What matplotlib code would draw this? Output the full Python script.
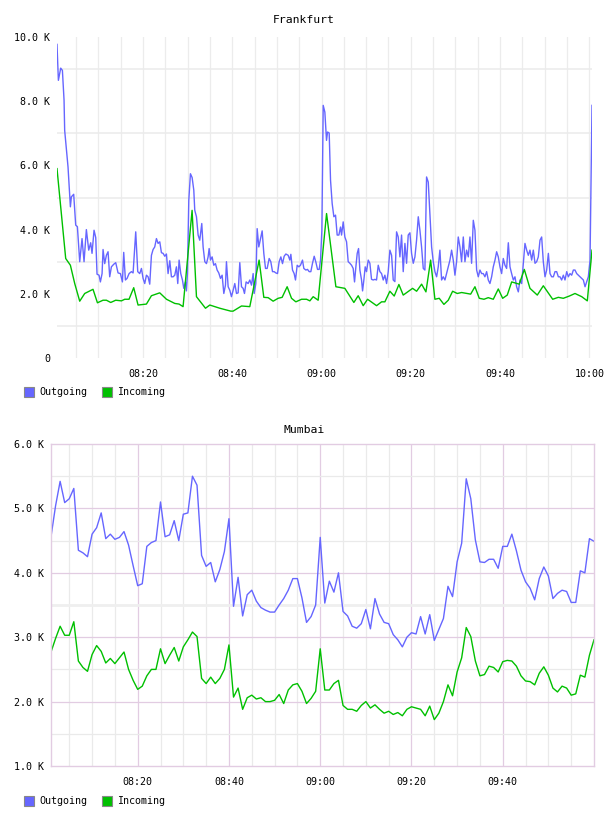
import matplotlib
matplotlib.use("Agg")
import matplotlib.pyplot as plt
from matplotlib.patches import Rectangle
from matplotlib.ticker import FuncFormatter

plt.rcParams["font.family"] = ["DejaVu Sans Mono", "DejaVu Sans"]

# Frankfurt, minutes after 08:00 and traffic in K
fra_out_min = [
    0.72, 1.03, 1.55, 1.93, 2.30, 2.44, 3.19, 3.72, 3.94, 4.46,
    4.91, 5.29, 5.81, 6.33, 6.78, 7.30, 7.83, 8.27, 8.57, 9.02,
    9.40, 9.69, 10.14, 10.44, 10.82, 11.04, 11.41, 11.79, 12.16, 12.53,
    12.91, 13.43, 13.88, 14.40, 14.93, 15.38, 15.67, 16.05, 16.42, 16.87,
    17.39, 17.77, 18.36, 18.81, 19.26, 19.64, 20.01, 20.38, 20.76, 21.13,
    21.50, 21.88, 22.25, 22.62, 23.00, 23.37, 23.75, 24.12, 24.49, 24.87,
    25.24, 25.61, 25.99, 26.36, 26.74, 27.11, 27.48, 27.78, 28.08, 28.45,
    28.83, 29.13, 29.50, 29.72, 29.95, 30.25, 30.62, 31.00, 31.37, 31.59,
    31.97, 32.34, 32.71, 33.16, 33.46, 33.84, 34.21, 34.58, 34.81, 35.11,
    35.48, 35.85, 36.23, 36.60, 36.97, 37.35, 37.72, 38.10, 38.47, 38.69,
    39.07, 39.44, 39.81, 40.19, 40.56, 40.94, 41.31, 41.68, 42.06, 42.43,
    42.73, 43.10, 43.55, 43.93, 44.30, 44.67, 44.90, 45.27, 45.57, 45.94,
    46.32, 46.69, 47.06, 47.44, 47.81, 48.26, 48.63, 49.01, 49.38, 49.76,
    50.13, 50.50, 50.88, 51.25, 51.62, 52.00, 52.52, 52.89,
    53.12, 53.49, 53.86, 54.16, 54.54, 54.91, 55.28, 55.73, 56.03, 56.48,
    56.85, 57.23, 57.60, 57.97, 58.35, 58.72, 59.10, 59.47, 59.77, 60.07,
    60.37, 60.74, 61.11, 61.34, 61.71, 62.01, 62.38, 62.76, 63.13, 63.50,
    63.88, 64.25, 64.48, 64.85, 65.22, 65.60, 65.97, 66.35, 66.72, 67.09,
    67.39, 67.69, 67.99, 68.29, 68.59, 68.96, 69.19, 69.48, 69.78, 70.08,
    70.46, 70.83, 71.20, 71.58, 71.95, 72.32, 72.70, 73.07, 73.45, 73.82,
    74.19, 74.57, 74.94, 75.31, 75.69, 76.06, 76.43, 76.81, 77.18, 77.56,
    77.93, 78.30, 78.68, 79.05, 79.42, 79.80, 80.17, 80.55, 80.92, 81.29,
    81.67, 82.04, 82.41, 82.79, 83.16, 83.53, 83.91, 84.28, 84.66, 85.03,
    85.40, 85.78, 86.15, 86.52, 86.90, 87.27, 87.65, 88.02, 88.39, 88.77,
    89.14, 89.51, 89.89, 90.26, 90.63, 91.01, 91.38, 91.76, 92.13, 92.50,
    92.88, 93.25, 93.62, 94.00, 94.37, 94.75, 95.12, 95.49, 95.87, 96.24,
    96.61, 96.99, 97.36, 97.73, 98.11, 98.48, 98.86, 99.23, 99.60, 99.98,
    100.35, 100.72, 101.10, 101.47, 101.85, 102.22, 102.59, 102.97, 103.34, 103.71,
    104.09, 104.46, 104.84, 105.21, 105.58, 105.96, 106.33, 106.70, 107.08, 107.45,
    107.83, 108.20, 108.57, 108.95, 109.32, 109.69, 110.07, 110.44, 110.82, 111.19,
    111.56, 111.94, 112.31, 112.68, 113.06, 113.43, 113.80, 114.18, 114.55, 114.93,
    115.30, 115.67, 116.05, 116.42, 116.79, 117.17, 117.54, 117.91, 118.29, 118.66,
    119.04, 119.41, 119.78, 120.16, 120.60,
]
fra_out = [
    9.77, 8.65, 9.03, 8.96, 8.03, 7.09, 5.95, 4.71, 5.02, 5.10,
    4.14, 4.09, 3.00, 3.72, 3.00, 4.00, 3.36, 3.59, 3.26, 3.98,
    3.75, 2.61, 2.58, 2.37, 2.63, 3.38, 2.94, 3.20, 3.31, 2.53,
    2.84, 2.92, 2.97, 2.65, 2.63, 2.37, 3.29, 2.43, 2.48, 2.63,
    2.69, 2.65, 3.93, 2.69, 2.63, 2.79, 2.48, 2.32, 2.58, 2.53,
    2.30, 3.20, 3.38, 3.46, 3.72, 3.57, 3.62, 3.28, 3.26, 3.17,
    3.24, 2.63, 3.03, 2.53, 2.53, 2.58, 2.84, 2.32, 3.05, 2.63,
    2.43, 2.17, 2.37, 2.09, 2.63, 4.91, 5.74, 5.62, 5.23, 4.60,
    4.40, 3.83, 3.67, 4.19, 3.46, 3.00, 2.94, 3.15, 3.41, 3.05,
    3.15, 2.89, 2.94, 2.74, 2.65, 2.48, 2.58, 2.01, 2.27, 3.00,
    2.22, 2.11, 1.91, 2.11, 2.32, 2.01, 2.03, 2.97, 2.22, 2.17,
    2.01, 2.37, 2.32, 2.43, 2.27, 2.63, 2.01, 2.32, 4.03, 3.46,
    3.72, 3.96, 3.26, 2.79, 2.79, 3.10, 3.00, 2.69, 2.69, 2.65,
    2.63, 3.00, 3.15, 2.94, 3.17, 3.24, 3.20, 3.05,
    3.23, 2.74, 2.63, 2.43, 2.89, 2.84, 2.89, 3.05, 2.79, 2.74,
    2.76, 2.69, 2.69, 2.95, 3.17, 2.99, 2.76, 2.76, 3.05, 3.98,
    7.87, 7.66, 6.78, 7.04, 7.01, 5.54, 4.81, 4.40, 4.45, 3.83,
    3.83, 4.08, 3.83, 4.24, 3.77, 3.62, 3.00, 2.95, 2.89, 2.79,
    2.37, 2.84, 3.26, 3.41, 2.74, 2.43, 2.09, 2.43, 2.84, 2.69,
    3.05, 2.95, 2.45, 2.43, 2.45, 2.43, 2.89, 2.69, 2.63, 2.43,
    2.58, 2.32, 2.69, 3.36, 3.20, 2.43, 2.38, 3.93, 3.77, 3.15,
    3.83, 2.69, 3.57, 2.95, 3.83, 3.90, 3.26, 2.95, 3.15, 3.67,
    4.40, 3.98, 3.46, 2.79, 2.74, 5.64, 5.48, 4.50, 3.46, 3.00,
    2.69, 2.53, 2.84, 3.36, 2.43, 2.53, 2.43, 2.63, 2.84, 3.05,
    3.36, 3.05, 2.58, 3.00, 3.77, 3.46, 3.00, 3.77, 3.00, 3.36,
    3.15, 3.77, 2.95, 4.29, 3.98, 2.74, 2.53, 2.74, 2.63, 2.63,
    2.53, 2.69, 2.43, 2.32, 2.53, 2.84, 3.05, 3.31, 3.15, 2.84,
    2.63, 3.10, 2.89, 2.79, 3.59, 2.84, 2.63, 2.43, 2.53, 2.22,
    2.06, 2.43, 2.32, 2.95, 3.57, 3.36, 3.20, 3.36, 3.05, 3.36,
    2.95, 3.00, 3.15, 3.67, 3.77, 3.00, 2.53, 2.74, 3.26, 2.63,
    2.53, 2.53, 2.69, 2.69, 2.53, 2.53, 2.43, 2.58, 2.43, 2.69,
    2.53, 2.63, 2.58, 2.74, 2.74, 2.63, 2.58, 2.53, 2.48, 2.43,
    2.22, 2.38, 2.53, 3.05, 7.87,
]
fra_in_min = [
    0.72, 2.67, 3.72, 4.69, 5.81, 6.93, 8.79, 9.78, 11.03, 11.79,
    12.76, 13.88, 15.16, 15.90, 16.86, 17.91, 18.88, 20.76, 21.88, 23.74,
    25.25, 27.11, 28.07, 28.97, 30.99, 31.97, 33.99, 34.96, 37.20, 39.66,
    40.18, 42.06, 43.92, 46.01, 47.06, 48.03, 49.15, 50.27, 51.17, 52.29,
    53.27, 54.24, 55.52, 56.64, 57.38, 58.12, 59.24, 61.12, 63.21, 65.22,
    67.24, 68.21, 69.33, 70.31, 72.33, 73.45, 74.19, 75.31, 76.28, 77.33,
    78.30, 80.40, 81.30, 82.42, 83.39, 84.44, 85.40, 86.37, 87.42, 88.39,
    89.37, 90.40, 91.39, 93.41, 94.37, 95.34, 96.39, 97.35, 98.48, 99.60,
    100.58, 101.61, 102.60, 104.30, 105.43, 106.70, 108.34, 109.69, 111.79, 113.05,
    114.17, 115.52, 116.79, 118.30, 119.55, 120.60,
]
fra_in = [
    5.90, 3.10, 2.89, 2.32, 1.77, 2.01, 2.14, 1.72, 1.80, 1.80,
    1.73, 1.80, 1.78, 1.83, 1.83, 2.19, 1.65, 1.68, 1.94, 2.03,
    1.83, 1.70, 1.68, 1.60, 4.60, 1.91, 1.55, 1.65, 1.55, 1.46,
    1.46, 1.62, 1.60, 3.05, 1.89, 1.88, 1.77, 1.86, 1.89, 2.22,
    1.86, 1.75, 1.83, 1.83, 1.78, 1.91, 1.80, 4.50, 2.22, 2.17,
    1.73, 1.94, 1.63, 1.83, 1.63, 1.75, 1.75, 2.08, 1.93, 2.29,
    1.96, 2.17, 2.08, 2.30, 2.06, 3.05, 1.83, 1.86, 1.67, 1.80,
    2.08, 2.01, 2.04, 1.99, 2.22, 1.86, 1.83, 1.88, 1.83, 2.15,
    1.86, 1.96, 2.37, 2.30, 2.76, 2.17, 1.96, 2.25, 1.83, 1.89,
    1.86, 1.93, 2.01, 1.91, 1.78, 3.36,
]

# Mumbai, one sample per minute from 08:01 to 10:00
mum_min = list(range(1, 121))
mum_out = [
    4.56, 5.04, 5.42, 5.09, 5.15, 5.31, 4.35, 4.31, 4.25, 4.60,
    4.70, 4.93, 4.53, 4.60, 4.52, 4.55, 4.64, 4.43, 4.11, 3.80,
    3.83, 4.41, 4.47, 4.50, 5.10, 4.56, 4.59, 4.81, 4.50, 4.91,
    4.93, 5.50, 5.36, 4.27, 4.10, 4.16, 3.86, 4.05, 4.33, 4.84,
    3.48, 3.93, 3.33, 3.66, 3.73, 3.56, 3.46, 3.42, 3.39, 3.39,
    3.50, 3.60, 3.73, 3.91, 3.91, 3.61, 3.23, 3.32, 3.50, 4.55,
    3.53, 3.87, 3.70, 4.00, 3.40, 3.33, 3.17, 3.14, 3.21, 3.43,
    3.13, 3.60, 3.36, 3.23, 3.21, 3.04, 2.96, 2.85, 3.00, 3.07,
    3.05, 3.32, 3.05, 3.35, 2.95, 3.12, 3.29, 3.79, 3.63, 4.17,
    4.46, 5.46, 5.15, 4.51, 4.17, 4.16, 4.21, 4.21, 4.07, 4.41,
    4.41, 4.60, 4.34, 4.04, 3.86, 3.76, 3.58, 3.91, 4.09, 3.95,
    3.60, 3.68, 3.73, 3.71, 3.54, 3.54, 4.03, 4.00, 4.53, 4.49,
]
mum_in = [
    2.77, 2.98, 3.17, 3.03, 3.03, 3.24, 2.63, 2.53, 2.47, 2.73,
    2.87, 2.78, 2.60, 2.67, 2.59, 2.68, 2.77, 2.50, 2.33, 2.19,
    2.24, 2.40, 2.50, 2.50, 2.82, 2.59, 2.72, 2.84, 2.63, 2.85,
    2.96, 3.08, 3.01, 2.36, 2.28, 2.38, 2.28, 2.36, 2.50, 2.88,
    2.07, 2.21, 1.88, 2.06, 2.10, 2.04, 2.06, 2.00, 2.00, 2.02,
    2.11, 1.97, 2.18, 2.26, 2.28, 2.16, 1.97, 2.05, 2.16, 2.82,
    2.18, 2.18, 2.28, 2.33, 1.94, 1.88, 1.88, 1.85, 1.94, 2.00,
    1.90, 1.95, 1.88, 1.82, 1.85, 1.80, 1.83, 1.78, 1.88, 1.92,
    1.90, 1.88, 1.78, 1.93, 1.72, 1.82, 2.00, 2.26, 2.09, 2.46,
    2.68, 3.15, 3.01, 2.63, 2.40, 2.42, 2.55, 2.53, 2.46, 2.62,
    2.64, 2.63, 2.55, 2.40, 2.32, 2.31, 2.26, 2.44, 2.54, 2.41,
    2.21, 2.15, 2.24, 2.21, 2.10, 2.12, 2.41, 2.38, 2.72, 2.96,
]

BLUE = "#6666ff"
GREEN = "#00c000"
W, H = 608, 816


def fmt_k(v, pos):
    return "0" if abs(v) < 1e-9 else f"{v:.1f} K"


def fmt_time(m, pos):
    m = int(round(m))
    return f"{8 + m // 60:02d}:{m % 60:02d}"


def style(ax):
    for s in ax.spines.values():
        s.set_visible(False)
    ax.tick_params(length=0, labelsize=7.2)
    ax.tick_params(axis="y", pad=5)
    ax.tick_params(axis="x", pad=8)
    ax.yaxis.set_major_formatter(FuncFormatter(fmt_k))
    ax.xaxis.set_major_formatter(FuncFormatter(fmt_time))


def legend(y):
    for x0, col, lab in [(24, BLUE, "Outgoing"), (102, GREEN, "Incoming")]:
        fig.add_artist(Rectangle((x0 / W, 1 - (y + 5) / H), 10 / W, 10 / H,
                                 facecolor=col, edgecolor="#888888", lw=0.8,
                                 transform=fig.transFigure))
        fig.text((x0 + 15) / W, 1 - y / H, lab, fontsize=7.2, va="center")


fig = plt.figure(figsize=(6.08, 8.16), dpi=100)

# Frankfurt
ax1 = fig.add_axes([57 / W, 1 - 358 / H, 535 / W, 321 / H])
style(ax1)
ax1.set_xlim(fra_out_min[0], fra_out_min[-1])
ax1.set_ylim(0, 10)
for m in range(5, 121, 5):
    ax1.axvline(m, color="#ececec", lw=0.9, zorder=0)
for v in [1, 3, 5, 7, 9]:
    ax1.axhline(v, color="#ebebeb", lw=1.1, zorder=0)
ax1.plot(fra_out_min, fra_out, color=BLUE, lw=1.0)
ax1.plot(fra_in_min, fra_in, color=GREEN, lw=1.0)
ax1.set_xticks([20, 40, 60, 80, 100, 120])
ax1.set_yticks([0, 2, 4, 6, 8, 10])
fig.text(0.5, 1 - 20 / H, "Frankfurt", fontsize=8.2, ha="center", va="center")
legend(392)

# Mumbai
ax2 = fig.add_axes([51 / W, 1 - 766 / H, 543 / W, 322 / H])
style(ax2)
ax2.set_xlim(mum_min[0], mum_min[-1])
ax2.set_ylim(1, 6)
purple = "#e2cce2"
for m in range(5, 120, 5):
    ax2.axvline(m, color=purple if m % 20 == 0 else "#eaeaea", lw=0.9, zorder=0)
for v in [1.5, 2.5, 4.5, 5.5]:
    ax2.axhline(v, color="#eaeaea", lw=0.9, zorder=0)
ax2.axhline(3.5, color="#efefef", lw=2, zorder=0)
for v in [2, 3, 4, 5]:
    ax2.axhline(v, color=purple, lw=0.9, zorder=0)
for s in ax2.spines.values():
    s.set_visible(True)
    s.set_color(purple)
    s.set_linewidth(1)
ax2.plot(mum_min, mum_out, color=BLUE, lw=1.0)
ax2.plot(mum_min, mum_in, color=GREEN, lw=1.0)
ax2.set_xticks([20, 40, 60, 80, 100])
ax2.set_yticks([1, 2, 3, 4, 5, 6])
fig.text(0.5, 1 - 430 / H, "Mumbai", fontsize=8.2, ha="center", va="center")
legend(801)

fig.savefig("out.png", dpi=100)
